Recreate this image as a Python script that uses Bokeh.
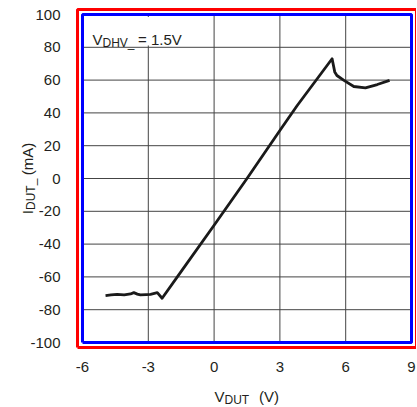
from bokeh.plotting import figure
from bokeh.models import Label, BoxAnnotation, FixedTicker, Range1d
from bokeh.embed import file_html
from bokeh.resources import INLINE

# ---- data ----
vdut = [-4.95, -4.7, -4.42, -4.1, -3.81, -3.66, -3.5, -3.36, -3.1, -2.9, -2.59, -2.37,
        -1.45, 0.0, 1.5, 3.03, 3.79, 5.38, 5.5, 5.6, 5.92, 6.37, 6.9, 7.44, 8.0]
idut = [-71.4, -71.0, -70.6, -71.0, -70.4, -69.6, -70.5, -71.0, -70.8, -70.6, -69.6, -73.0,
        -55.7, -28.5, 0.0, 29.9, 44.5, 73.0, 65.0, 62.8, 59.8, 56.1, 55.3, 57.3, 59.8]

x_ticks = [-6, -3, 0, 3, 6, 9]
y_ticks = [-100, -80, -60, -40, -20, 0, 20, 40, 60, 80, 100]
X0, X1 = x_ticks[0], x_ticks[-1]
Y0, Y1 = y_ticks[0], y_ticks[-1]

FONT = "Liberation Sans"
TXT = "#231f20"
W, H = 416, 406
BL, BR, BT, BB = 82, 411, 14, 342
sx = (BR - BL) / (X1 - X0)
sy = (BB - BT) / (Y1 - Y0)

def dx(px):
    return X0 + (px - BL) / sx

def dy(py):
    return Y1 - (py - BT) / sy

p = figure(width=W, height=H, output_backend="svg", toolbar_location=None,
           x_range=Range1d(dx(0), dx(W)), y_range=Range1d(dy(H), dy(0)),
           min_border=0)
p.outline_line_color = None
p.background_fill_color = "white"
p.border_fill_color = "white"
p.grid.visible = False

for ax in (p.xaxis[0], p.yaxis[0]):
    ax.axis_line_color = None
    ax.major_tick_line_color = None
    ax.minor_tick_line_color = None
    ax.major_label_text_font = FONT
    ax.major_label_text_font_size = "15px"
    ax.major_label_text_color = TXT

p.xaxis[0].ticker = FixedTicker(ticks=x_ticks)
p.yaxis[0].ticker = FixedTicker(ticks=y_ticks)
p.xaxis[0].major_label_overrides = {t: str(t) for t in x_ticks}
p.yaxis[0].major_label_overrides = {t: str(t) for t in y_ticks}
p.xaxis[0].fixed_location = Y0
p.yaxis[0].fixed_location = X0
p.xaxis[0].major_label_standoff = 13
p.yaxis[0].major_label_standoff = 16

gx = x_ticks[1:-1]
gy = y_ticks[1:-1]
p.segment(x0=gx, y0=[Y0] * len(gx), x1=gx, y1=[Y1] * len(gx),
          line_color="#444444", line_width=1)
p.segment(x0=[X0] * len(gy), y0=gy, x1=[X1] * len(gy), y1=gy,
          line_color="#444444", line_width=1)

p.add_layout(BoxAnnotation(left=dx(BL + 2), right=dx(188), bottom=dy(45), top=dy(BT + 2.5),
                           fill_color="white", fill_alpha=1.0, line_color=None))

p.line(vdut, idut, line_color="#1a1a1a", line_width=2.8, line_join="round")

# frame of the plot box (diagnostic colours: blue exactly on the edges, red 5 px outside)
p.line(x=[X0, X1, X1, X0, X0], y=[Y0, Y0, Y1, Y1, Y0], line_color="blue", line_width=3)
o = 5
p.line(x=[dx(BL - o), dx(BR + o), dx(BR + o), dx(BL - o), dx(BL - o)],
       y=[dy(BB + o), dy(BB + o), dy(BT - o), dy(BT - o), dy(BB + o)],
       line_color="red", line_width=3)

def lab(px, py, text, size, angle=0):
    p.add_layout(Label(x=dx(px), y=dy(py), text=text, text_font=FONT, text_font_size=size,
                       text_color=TXT, text_baseline="alphabetic", text_align="left",
                       angle=angle, angle_units="deg"))

lab(92, 39, "V", "15px")
lab(102, 42, "DHV_", "12px")
lab(137.5, 39, "= 1.5V", "15px")

lab(214, 396, "V", "15px")
lab(224, 399, "DUT_", "12px")
lab(258.5, 396, "(V)", "15px")

lab(27, 213.7, "I", "15px", 90)
lab(30, 209.5, "DUT_", "12px", 90)
lab(27, 174.7, "(mA)", "15px", 90)

open("out.html", "w").write(file_html(p, INLINE))
